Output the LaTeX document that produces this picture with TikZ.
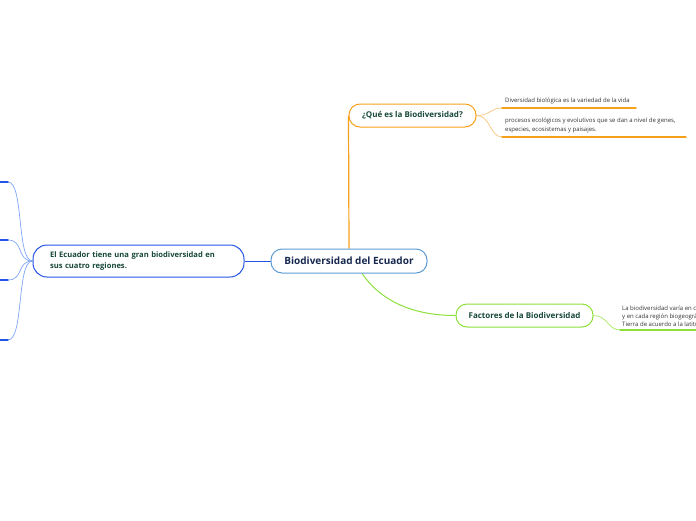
\documentclass[tikz,border=0pt]{standalone}
\usepackage{fontspec}
\setmainfont{Open Sans}
\usetikzlibrary{calc}
\definecolor{corange}{HTML}{F6A01A}
\definecolor{lorange}{HTML}{F9C47A}
\definecolor{cgreen}{HTML}{8DE03A}
\definecolor{lgreen}{HTML}{A8EA66}
\definecolor{cblue}{HTML}{5B9BD5}
\definecolor{cbluedark}{HTML}{2454E6}
\definecolor{lblue}{HTML}{7EA6F6}
\definecolor{navy}{HTML}{16284F}
\definecolor{dgreen}{HTML}{17473A}
\definecolor{leaftext}{HTML}{333333}
\pgfdeclarelayer{bg}
\pgfsetlayers{bg,main}
\begin{document}
\begin{tikzpicture}[x=1pt,y=-1pt,
  mainbox/.style={draw=cblue, line width=1pt, rounded corners=11pt, fill=white,
    minimum width=156pt, minimum height=24pt, inner sep=0pt,
    font=\bfseries\fontsize{10}{12}\selectfont, text=navy},
  subbox/.style={rounded corners=11pt, line width=1pt, fill=white, inner sep=0pt,
    font=\bfseries\fontsize{8}{11}\selectfont, text=dgreen, minimum height=23pt},
  leaf/.style={font=\fontsize{6}{9}\selectfont, text=leaftext, align=left,
    inner sep=0pt, anchor=south west},
  uline/.style={line width=1.4pt, line cap=round},
  twig/.style={line width=0.7pt}
]
\useasboundingbox (0,0) rectangle (696,520);
\clip (0,0) rectangle (696,520);

% nodes
\node[mainbox] (c) at (349,261) {Biodiversidad del Ecuador};
\node[subbox, draw=corange, minimum width=127pt] (q) at (412.5,115.5) {¿Qué es la Biodiversidad?};
\node[subbox, draw=cgreen, minimum width=137pt] (f) at (524.5,315.5) {Factores de la Biodiversidad};
\node[subbox, draw=cbluedark, rounded corners=14pt, minimum height=32pt, inner xsep=17pt,
  text width=177pt, align=left, font=\bfseries\fontsize{7.6}{11}\selectfont] (e) at (138.5,261)
  {El Ecuador tiene una gran biodiversidad en\\ sus cuatro regiones.};

% orange leaves
\node[leaf] (t1) at (505,104.5) {Diversidad biológica es la variedad de la vida};
\node[leaf] (t2) at (505,133.5) {procesos ecológicos y evolutivos que se dan a nivel de genes,\\ especies, ecosistemas y paisajes.};
\coordinate (l1s) at (502,108); \coordinate (l1e) at (636,108);
\coordinate (l2s) at (502,137); \coordinate (l2e) at (686,137);

% green leaf
\node[leaf, font=\fontsize{6}{8}\selectfont] (t3) at (622,326.5) {La biodiversidad varía en cada ecosistema\\ y en cada región biogeográfica de la\\ Tierra de acuerdo a la latitud};
\coordinate (l3s) at (620,330); \coordinate (l3e) at (700,330);

% blue leaves (off canvas on the left)
\coordinate (b1e) at (8,182); \coordinate (b1s) at (-40,182);
\coordinate (b2e) at (8,240); \coordinate (b2s) at (-40,240);
\coordinate (b3e) at (8,280); \coordinate (b3s) at (-40,280);
\coordinate (b4e) at (8,340); \coordinate (b4s) at (-40,340);

\begin{pgfonlayer}{bg}
  % orange
  \draw[corange, line width=1.2pt] (c.north) -- (q.west);
  \draw[lorange, twig] (q.east) .. controls +(14,0) and +(-12,0) .. (l1s);
  \draw[lorange, twig] (q.east) .. controls +(14,0) and +(-12,0) .. (l2s);
  \draw[corange, uline] (l1s) -- (l1e);
  \draw[corange, uline] (l2s) -- (l2e);
  % green
  \draw[cgreen, line width=1pt] ($(c.south)+(13,0)$) .. controls +(18,26) and +(-45,0) .. (f.west);
  \draw[lgreen, twig] (f.east) .. controls +(14,0) and +(-12,0) .. (l3s);
  \draw[cgreen, uline] (l3s) -- (l3e);
  % blue
  \draw[cbluedark, line width=1pt] (c.west) -- (e.east);
  \foreach \i in {1,2,3,4}{
    \draw[lblue, twig] (e.west) .. controls +(-16,0) and +(16,0) .. (b\i e);
    \draw[cbluedark, uline] (b\i s) -- (b\i e);
  }
\end{pgfonlayer}
\end{tikzpicture}
\end{document}
